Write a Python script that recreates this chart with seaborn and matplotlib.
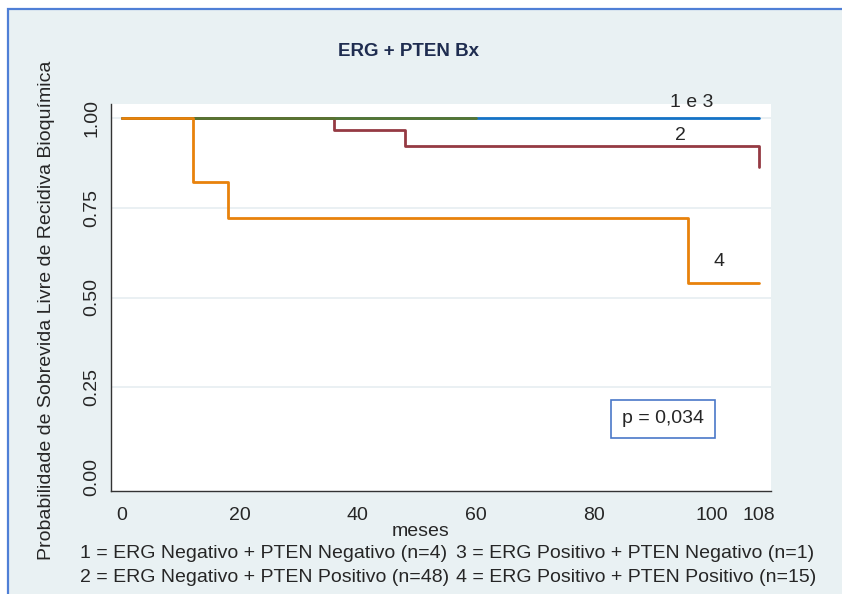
import numpy as np
import pandas as pd
import seaborn as sns
import matplotlib.pyplot as plt
from matplotlib.patches import Rectangle

# survival steps per group (months, probability)
t1 = [0, 108]
s1 = [1.0, 1.0]
t2 = [0, 36, 48, 108]
s2 = [1.0, 0.967, 0.922, 0.864]
t3 = [0, 60]
s3 = [1.0, 1.0]
t4 = [0, 12, 18, 96, 108]
s4 = [1.0, 0.822, 0.722, 0.540, 0.540]

groups = ["1", "2", "3", "4"]
colors = ["#1573C6", "#953A43", "#567530", "#E8820C"]
xticks = [0, 20, 40, 60, 80, 100, 108]
yticks = [0.00, 0.25, 0.50, 0.75, 1.00]
legend_rows = [
    ("1 = ERG Negativo + PTEN Negativo (n=4)", "3 = ERG Positivo + PTEN Negativo (n=1)"),
    ("2 = ERG Negativo + PTEN Positivo (n=48)", "4 = ERG Positivo + PTEN Positivo (n=15)"),
]

df = pd.concat([
    pd.DataFrame({"meses": t, "surv": s, "grupo": g})
    for t, s, g in zip([t1, t2, t3, t4], [s1, s2, s3, s4], groups)
])

sns.set_style("white")
plt.rcParams["font.family"] = ["Liberation Sans", "DejaVu Sans"]

W, H = 842, 594
fig = plt.figure(figsize=(W / 100, H / 100), dpi=100, facecolor="white")
# framed background
fig.patches.append(Rectangle((8 / W, -0.1), 1.2, 1 - 9 / H + 0.1, transform=fig.transFigure,
                             facecolor="#E9F1F3", edgecolor="#4F7FD6", lw=1.6, zorder=-1))

def px(x0, y0, x1, y1):
    return [x0 / W, 1 - y1 / H, (x1 - x0) / W, (y1 - y0) / H]

ax = fig.add_axes(px(111, 104, 771, 491))
ax.set_facecolor("white")

sns.lineplot(data=df, x="meses", y="surv", hue="grupo", hue_order=groups,
             palette=colors, estimator=None, sort=False, drawstyle="steps-post",
             linewidth=2.0, legend=False, ax=ax)

ppx = (759 - 122) / 108
ax.set_xlim(-11 / ppx, (771 - 122) / ppx)
ax.set_ylim(-14 / 359, 1 + 14 / 359)
ax.set_xticks(xticks)
ax.set_xticklabels([str(v) for v in xticks], fontsize=14)
ax.set_yticks(yticks)
ax.set_yticklabels([f"{v:.2f}" for v in yticks], fontsize=14, rotation=90, va="center")
ax.tick_params(axis="both", direction="out", length=5, width=1, color="#333333")
ax.tick_params(axis="x", pad=6.5)
ax.tick_params(axis="y", pad=2.4)
ax.grid(axis="y", color="#E6EEF1", lw=1.2)
ax.set_axisbelow(True)
ax.get_ygridlines()[0].set_visible(False)
for side in ["top", "right"]:
    ax.spines[side].set_visible(False)
for side in ["left", "bottom"]:
    ax.spines[side].set_color("#333333")
    ax.spines[side].set_linewidth(1.0)
ax.set_xlabel("")
ax.set_ylabel("")

# curve labels
ax.text(96.6, 1.042, "1 e 3", fontsize=14, ha="center", va="center", clip_on=False)
ax.text(94.6, 0.95, "2", fontsize=14, ha="center", va="center")
ax.text(101.2, 0.599, "4", fontsize=14, ha="center", va="center")
ax.text(91.7, 0.1616, "p = 0,034", fontsize=14, ha="center", va="center",
        bbox=dict(boxstyle="square,pad=0.55", facecolor="white", edgecolor="#4A78C8", lw=1.2))

fig.text(408 / W, 1 - 52 / H, "ERG + PTEN Bx", fontsize=13.5, fontweight="bold",
         color="#1F2D50", ha="center", va="center")
fig.text(421 / W, 1 - 532 / H, "meses", fontsize=14, ha="center", va="center")
fig.text(47 / W, 1 - 310 / H, "Probabilidade de Sobrevida Livre de Recidiva Bioquímica",
         fontsize=14, rotation=90, ha="center", va="center")
for i, (left, right) in enumerate(legend_rows):
    y = 1 - (553 + 25 * i) / H
    fig.text(80 / W, y, left, fontsize=14, ha="left", va="center")
    fig.text(456 / W, y, right, fontsize=14, ha="left", va="center")

fig.savefig("out.png", dpi=100, facecolor=fig.get_facecolor())
